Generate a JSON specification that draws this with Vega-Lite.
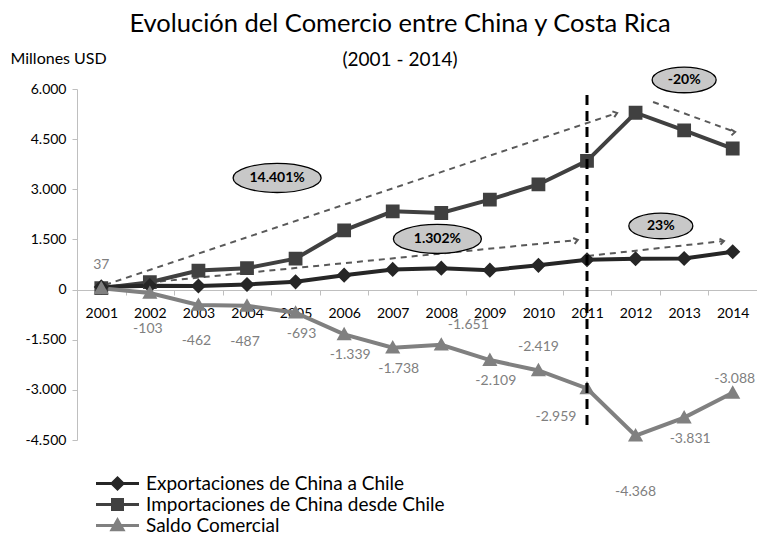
{
  "$schema": "https://vega.github.io/schema/vega-lite/v6.json",
  "width": 680,
  "height": 351,
  "autosize": {"type": "none"},
  "padding": {"left": 77, "top": 89, "right": 0, "bottom": 93},
  "background": "white",
  "config": {
    "view": {"stroke": null},
    "font": "Lato",
    "locale": {"number": {"decimal": ",", "thousands": ".", "grouping": [3], "currency": ["", ""], "minus": "-"}}
  },
  "title": {
    "text": "Evolución del Comercio entre China y Costa Rica",
    "subtitle": "(2001 - 2014)",
    "font": "Lato",
    "fontSize": 25.5,
    "fontWeight": "normal",
    "color": "#000000",
    "subtitleFont": "Lato",
    "subtitleFontSize": 19,
    "subtitleColor": "#000000",
    "subtitlePadding": 14,
    "anchor": "middle",
    "frame": "group",
    "dx": -17,
    "offset": -20
  },
  "datasets": {
    "comercio": [
      {"anio": 2001, "serie": "Importaciones de China desde Chile", "valor": 43},
      {"anio": 2002, "serie": "Importaciones de China desde Chile", "valor": 220},
      {"anio": 2003, "serie": "Importaciones de China desde Chile", "valor": 570},
      {"anio": 2004, "serie": "Importaciones de China desde Chile", "valor": 640},
      {"anio": 2005, "serie": "Importaciones de China desde Chile", "valor": 925},
      {"anio": 2006, "serie": "Importaciones de China desde Chile", "valor": 1770},
      {"anio": 2007, "serie": "Importaciones de China desde Chile", "valor": 2340},
      {"anio": 2008, "serie": "Importaciones de China desde Chile", "valor": 2291},
      {"anio": 2009, "serie": "Importaciones de China desde Chile", "valor": 2690},
      {"anio": 2010, "serie": "Importaciones de China desde Chile", "valor": 3145},
      {"anio": 2011, "serie": "Importaciones de China desde Chile", "valor": 3850},
      {"anio": 2012, "serie": "Importaciones de China desde Chile", "valor": 5290},
      {"anio": 2013, "serie": "Importaciones de China desde Chile", "valor": 4760},
      {"anio": 2014, "serie": "Importaciones de China desde Chile", "valor": 4220},
      {"anio": 2001, "serie": "Exportaciones de China a Chile", "valor": 80},
      {"anio": 2002, "serie": "Exportaciones de China a Chile", "valor": 117},
      {"anio": 2003, "serie": "Exportaciones de China a Chile", "valor": 108},
      {"anio": 2004, "serie": "Exportaciones de China a Chile", "valor": 153},
      {"anio": 2005, "serie": "Exportaciones de China a Chile", "valor": 232},
      {"anio": 2006, "serie": "Exportaciones de China a Chile", "valor": 431},
      {"anio": 2007, "serie": "Exportaciones de China a Chile", "valor": 602},
      {"anio": 2008, "serie": "Exportaciones de China a Chile", "valor": 640},
      {"anio": 2009, "serie": "Exportaciones de China a Chile", "valor": 581},
      {"anio": 2010, "serie": "Exportaciones de China a Chile", "valor": 726},
      {"anio": 2011, "serie": "Exportaciones de China a Chile", "valor": 891},
      {"anio": 2012, "serie": "Exportaciones de China a Chile", "valor": 922},
      {"anio": 2013, "serie": "Exportaciones de China a Chile", "valor": 929},
      {"anio": 2014, "serie": "Exportaciones de China a Chile", "valor": 1132},
      {"anio": 2001, "serie": "Saldo Comercial", "valor": 37},
      {"anio": 2002, "serie": "Saldo Comercial", "valor": -103},
      {"anio": 2003, "serie": "Saldo Comercial", "valor": -462},
      {"anio": 2004, "serie": "Saldo Comercial", "valor": -487},
      {"anio": 2005, "serie": "Saldo Comercial", "valor": -693},
      {"anio": 2006, "serie": "Saldo Comercial", "valor": -1339},
      {"anio": 2007, "serie": "Saldo Comercial", "valor": -1738},
      {"anio": 2008, "serie": "Saldo Comercial", "valor": -1651},
      {"anio": 2009, "serie": "Saldo Comercial", "valor": -2109},
      {"anio": 2010, "serie": "Saldo Comercial", "valor": -2419},
      {"anio": 2011, "serie": "Saldo Comercial", "valor": -2959},
      {"anio": 2012, "serie": "Saldo Comercial", "valor": -4368},
      {"anio": 2013, "serie": "Saldo Comercial", "valor": -3831},
      {"anio": 2014, "serie": "Saldo Comercial", "valor": -3088}
    ],
    "flechas": [
      {"id": "a", "anio": 2001.08, "valor": 140, "anio2": 2011.62, "valor2": 5283},
      {"id": "b", "anio": 2001.08, "valor": 80, "anio2": 2010.81, "valor2": 1484},
      {"id": "c", "anio": 2011.02, "valor": 1005, "anio2": 2013.82, "valor2": 1454},
      {"id": "d", "anio": 2012.36, "valor": 5612, "anio2": 2014.05, "valor2": 4714}
    ],
    "puntas": [
      {"id": "a", "anio": 2011.62, "valor": 5283},
      {"id": "b", "anio": 2010.81, "valor": 1484},
      {"id": "c", "anio": 2013.82, "valor": 1454},
      {"id": "d", "anio": 2014.05, "valor": 4714}
    ],
    "globos": [
      {"texto": "14.401%", "anio": 2004.62, "valor": 3338},
      {"texto": "1.302%", "anio": 2007.92, "valor": 1514},
      {"texto": "23%", "anio": 2012.52, "valor": 1903},
      {"texto": "-20%", "anio": 2013.0, "valor": 6270}
    ],
    "corte": [
      {"anio": 2011, "valor": 5820, "valor2": -4200}
    ]
  },
  "encoding": {
    "x": {
      "field": "anio",
      "type": "quantitative",
      "scale": {"domain": [2000.5, 2014.5], "nice": false, "zero": false},
      "axis": {
        "title": null,
        "values": [2001, 2002, 2003, 2004, 2005, 2006, 2007, 2008, 2009, 2010, 2011, 2012, 2013, 2014],
        "format": "d",
        "offset": -150,
        "grid": false,
        "domainColor": "#bfbfbf",
        "domainWidth": 1,
        "tickColor": "#bfbfbf",
        "tickSize": 5,
        "tickOffset": 24.3,
        "labelOffset": -24.3,
        "labelFont": "Lato",
        "labelFontSize": 14,
        "labelColor": "#000000",
        "labelPadding": 11,
        "labelFlush": false,
        "labelOverlap": false
      }
    },
    "y": {
      "field": "valor",
      "type": "quantitative",
      "scale": {"domain": [-4500, 6000], "nice": false, "zero": false},
      "axis": {
        "title": "Millones USD",
        "titleAngle": 0,
        "titleAlign": "left",
        "titleBaseline": "middle",
        "titleX": -67,
        "titleY": -31,
        "titleFont": "Lato",
        "titleFontSize": 16,
        "titleFontWeight": "normal",
        "titleColor": "#000000",
        "values": [-4500, -3000, -1500, 0, 1500, 3000, 4500, 6000],
        "format": ",d",
        "grid": false,
        "labelFont": "Lato",
        "labelFontSize": 14,
        "labelColor": "#000000",
        "labelPadding": 6,
        "tickSize": 5,
        "tickColor": "#bfbfbf",
        "domainColor": "#bfbfbf"
      }
    }
  },
  "layer": [
    {
      "data": {"name": "flechas"},
      "mark": {"type": "rule", "strokeDash": [6, 5], "strokeWidth": 2, "color": "#595959"},
      "encoding": {"x2": {"field": "anio2"}, "y2": {"field": "valor2"}}
    },
    {
      "data": {"name": "puntas"},
      "mark": {"type": "point", "shape": "M-1,-0.75L0,0L-1,0.75", "filled": false, "strokeWidth": 2, "color": "#595959", "size": 64, "opacity": 1},
      "encoding": {
        "angle": {"field": "id", "type": "nominal", "scale": {"domain": ["a", "b", "c", "d"], "range": [341.4, 354.3, 353.7, 20.1]}, "legend": null}
      }
    },
    {
      "data": {"name": "comercio"},
      "mark": {"type": "line", "strokeWidth": 4},
      "encoding": {
        "stroke": {
          "field": "serie",
          "type": "nominal",
          "scale": {"domain": ["Exportaciones de China a Chile", "Importaciones de China desde Chile", "Saldo Comercial"], "range": ["#262626", "#404040", "#808080"]}
        }
      }
    },
    {
      "data": {"name": "comercio"},
      "mark": {"type": "point", "filled": true, "size": 190, "strokeWidth": 0, "opacity": 1},
      "encoding": {
        "fill": {
          "field": "serie",
          "type": "nominal",
          "scale": {"domain": ["Exportaciones de China a Chile", "Importaciones de China desde Chile", "Saldo Comercial"], "range": ["#262626", "#404040", "#808080"]},
          "legend": {
            "title": null,
            "orient": "none",
            "legendX": 31,
            "legendY": 385,
            "direction": "vertical",
            "labelFont": "Lato",
            "labelFontSize": 19,
            "labelColor": "#000000",
            "labelLimit": 0,
            "labelOffset": 19,
            "symbolSize": 100,
            "symbolStrokeWidth": 3,
            "rowPadding": -4,
            "encode": {"symbols": {"strokeWidth": {"value": 3}}}
          }
        },
        "stroke": {
          "field": "serie",
          "type": "nominal",
          "scale": {"domain": ["Exportaciones de China a Chile", "Importaciones de China desde Chile", "Saldo Comercial"], "range": ["#262626", "#404040", "#808080"]},
          "legend": {
            "title": null,
            "orient": "none",
            "legendX": 31,
            "legendY": 385,
            "direction": "vertical",
            "labelFont": "Lato",
            "labelFontSize": 19,
            "labelColor": "#000000",
            "labelLimit": 0,
            "labelOffset": 19,
            "symbolSize": 100,
            "symbolStrokeWidth": 3,
            "rowPadding": -4,
            "encode": {"symbols": {"strokeWidth": {"value": 3}}}
          }
        },
        "shape": {
          "field": "serie",
          "type": "nominal",
          "scale": {
            "domain": ["Exportaciones de China a Chile", "Importaciones de China desde Chile", "Saldo Comercial"],
            "range": [
              "M-4.3,0H4.3M0,-1.1L1.1,0L0,1.1L-1.1,0Z",
              "M-4.3,0H4.3M-1,-1H1V1H-1Z",
              "M-4.3,0H4.3M0,-1.1L1.1,0.85L-1.1,0.85Z"
            ]
          },
          "legend": {
            "title": null,
            "orient": "none",
            "legendX": 31,
            "legendY": 385,
            "direction": "vertical",
            "labelFont": "Lato",
            "labelFontSize": 19,
            "labelColor": "#000000",
            "labelLimit": 0,
            "labelOffset": 19,
            "symbolSize": 100,
            "symbolStrokeWidth": 3,
            "rowPadding": -4,
            "encode": {"symbols": {"strokeWidth": {"value": 3}}}
          }
        }
      }
    },
    {
      "data": {"name": "globos"},
      "transform": [{"filter": "length(datum.texto) > 4"}],
      "mark": {"type": "point", "shape": "M-1,0A1,0.33,0,1,1,1,0A1,0.33,0,1,1,-1,0Z", "size": 7744, "filled": true, "fill": "#c8c8c8", "stroke": "#000000", "strokeWidth": 1.3, "opacity": 1}
    },
    {
      "data": {"name": "globos"},
      "transform": [{"filter": "length(datum.texto) <= 4"}],
      "mark": {"type": "point", "shape": "M-1,0A1,0.4,0,1,1,1,0A1,0.4,0,1,1,-1,0Z", "size": 4096, "filled": true, "fill": "#c8c8c8", "stroke": "#000000", "strokeWidth": 1.3, "opacity": 1}
    },
    {
      "data": {"name": "globos"},
      "mark": {"type": "text", "font": "Lato", "fontSize": 14, "fontWeight": "bold", "color": "#000000", "baseline": "middle", "align": "center"},
      "encoding": {"text": {"field": "texto", "type": "nominal"}}
    },
    {
      "data": {"name": "comercio"},
      "transform": [{"filter": "datum.serie == 'Saldo Comercial' && (datum.anio == 2001 || datum.anio == 2010)"}],
      "mark": {"type": "text", "font": "Lato", "fontSize": 14, "color": "#7f7f7f", "baseline": "middle", "align": "center", "dy": -23},
      "encoding": {"text": {"field": "valor", "type": "quantitative", "format": ",d"}}
    },
    {
      "data": {"name": "comercio"},
      "transform": [{"filter": "datum.serie == 'Saldo Comercial' && datum.anio == 2008"}],
      "mark": {"type": "text", "font": "Lato", "fontSize": 14, "color": "#7f7f7f", "baseline": "middle", "align": "center", "dx": 27, "dy": -20},
      "encoding": {"text": {"field": "valor", "type": "quantitative", "format": ",d"}}
    },
    {
      "data": {"name": "comercio"},
      "transform": [{"filter": "datum.serie == 'Saldo Comercial' && datum.anio == 2014"}],
      "mark": {"type": "text", "font": "Lato", "fontSize": 14, "color": "#7f7f7f", "baseline": "middle", "align": "center", "dx": 2, "dy": -14},
      "encoding": {"text": {"field": "valor", "type": "quantitative", "format": ",d"}}
    },
    {
      "data": {"name": "comercio"},
      "transform": [{"filter": "datum.serie == 'Saldo Comercial' && (datum.anio == 2005 || datum.anio == 2006 || datum.anio == 2007 || datum.anio == 2009 || datum.anio == 2013)"}],
      "mark": {"type": "text", "font": "Lato", "fontSize": 14, "color": "#7f7f7f", "baseline": "middle", "align": "center", "dx": 6, "dy": 21},
      "encoding": {"text": {"field": "valor", "type": "quantitative", "format": ",d"}}
    },
    {
      "data": {"name": "comercio"},
      "transform": [{"filter": "datum.serie == 'Saldo Comercial' && (datum.anio == 2002 || datum.anio == 2003 || datum.anio == 2004)"}],
      "mark": {"type": "text", "font": "Lato", "fontSize": 14, "color": "#7f7f7f", "baseline": "middle", "align": "center", "dx": -2, "dy": 36},
      "encoding": {"text": {"field": "valor", "type": "quantitative", "format": ",d"}}
    },
    {
      "data": {"name": "comercio"},
      "transform": [{"filter": "datum.serie == 'Saldo Comercial' && datum.anio == 2011"}],
      "mark": {"type": "text", "font": "Lato", "fontSize": 14, "color": "#7f7f7f", "baseline": "middle", "align": "center", "dx": -31, "dy": 29},
      "encoding": {"text": {"field": "valor", "type": "quantitative", "format": ",d"}}
    },
    {
      "data": {"name": "comercio"},
      "transform": [{"filter": "datum.serie == 'Saldo Comercial' && datum.anio == 2012"}],
      "mark": {"type": "text", "font": "Lato", "fontSize": 14, "color": "#7f7f7f", "baseline": "middle", "align": "center", "dy": 56},
      "encoding": {"text": {"field": "valor", "type": "quantitative", "format": ",d"}}
    },
    {
      "data": {"name": "corte"},
      "mark": {"type": "rule", "strokeDash": [10, 6], "strokeWidth": 3, "color": "#000000"},
      "encoding": {"y2": {"field": "valor2"}}
    }
  ]
}
